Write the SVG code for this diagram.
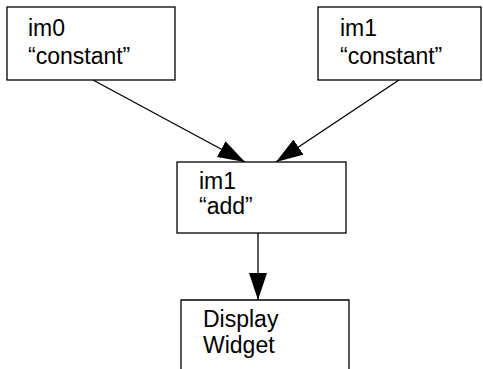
<svg xmlns="http://www.w3.org/2000/svg" width="483" height="369" viewBox="0 0 483 369">
<style>
.box{fill:#fff;stroke:#000;stroke-width:1.3}
.t{font-family:"Liberation Sans",Arial,sans-serif;font-size:23px;fill:#000}
.c{stroke:#000;stroke-width:1.3;fill:none}
</style>
<defs>
<marker id="ah" markerUnits="userSpaceOnUse" markerWidth="28" markerHeight="20" refX="27" refY="9" orient="auto">
<path d="M0,0 L27,9 L0,18 Z" fill="#000"/>
</marker>
</defs>
<rect width="483" height="369" fill="#fff"/>
<g id="connectors">
<line class="c" x1="93" y1="80" x2="245" y2="162" marker-end="url(#ah)"/>
<line class="c" x1="399" y1="80" x2="276" y2="162" marker-end="url(#ah)"/>
<line class="c" x1="258" y1="233" x2="258" y2="300" marker-end="url(#ah)"/>
</g>
<g id="im0">
<rect class="box" x="7" y="7" width="168" height="73"/>
<text class="t" x="28" y="36">im0</text>
<text class="t" x="28" y="64">“constant”</text>
</g>
<g id="im1c">
<rect class="box" x="318" y="7" width="163" height="73"/>
<text class="t" x="340" y="36">im1</text>
<text class="t" x="340" y="64">“constant”</text>
</g>
<g id="im1add">
<rect class="box" x="177" y="162" width="169" height="71"/>
<text class="t" x="199" y="189">im1</text>
<text class="t" x="199" y="214">“add”</text>
</g>
<g id="display">
<path class="c" d="M181,369 V300 H349 V369"/>
<text class="t" x="203" y="327">Display</text>
<text class="t" x="203" y="353">Widget</text>
</g>
</svg>
